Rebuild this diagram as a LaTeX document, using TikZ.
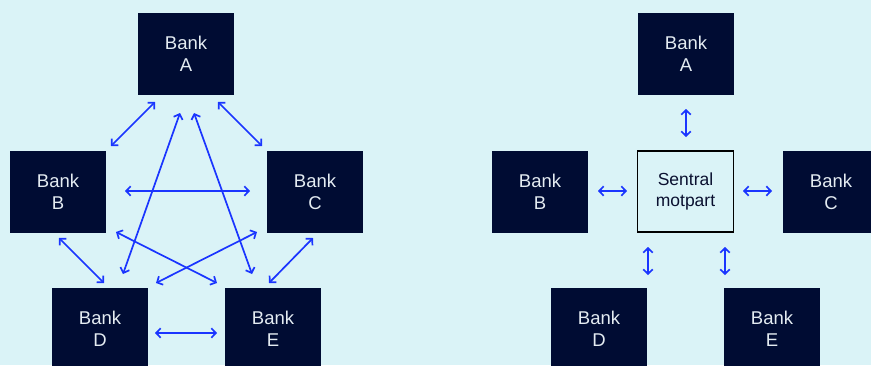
\documentclass[tikz,border=0pt]{standalone}
\usepackage{fontspec}
\setmainfont{Liberation Sans}
\usetikzlibrary{arrows.meta}
\definecolor{bg}{HTML}{DAF3F7}
\definecolor{navy}{HTML}{000C33}
\definecolor{arr}{HTML}{1A35FF}
\definecolor{txt}{HTML}{E4ECF2}
\definecolor{dtxt}{HTML}{0A1030}
\tikzset{
  bank/.style={fill=navy, text=txt, minimum width=96pt, minimum height=82pt, inner sep=0pt, align=center, font=\fontsize{18.5}{22}\selectfont},
  central/.style={draw=black, line width=1.8pt, fill=bg, text=dtxt, minimum width=96pt, minimum height=81pt, inner sep=0pt, align=center, font=\fontsize{17.5}{21}\selectfont},
  link/.style={draw=arr, line width=1.7pt, {Straight Barb[length=4.5pt,width=9.5pt]}-{Straight Barb[length=4.5pt,width=9.5pt]}}
}
\begin{document}
\begin{tikzpicture}[x=1pt,y=-1pt]
\clip (0,0) rectangle (871,365);
\fill[bg] (0,0) rectangle (871,365);
% left network
\node[bank] (A) at (186,54) {Bank\\A};
\node[bank] (B) at (58,192) {Bank\\B};
\node[bank] (C) at (315,192) {Bank\\C};
\node[bank] (D) at (100,329) {Bank\\D};
\node[bank] (E) at (273,329) {Bank\\E};
\coordinate (ab1) at (155,102); \coordinate (ab2) at (111,146);
\coordinate (ac1) at (218,102); \coordinate (ac2) at (262,146);
\coordinate (ad1) at (180,113); \coordinate (ad2) at (123,274);
\coordinate (ae1) at (194,113); \coordinate (ae2) at (252,274);
\coordinate (bc1) at (125,191); \coordinate (bc2) at (250,191);
\coordinate (be1) at (116,232); \coordinate (be2) at (217,283);
\coordinate (cd1) at (257,232); \coordinate (cd2) at (156,283);
\coordinate (bd1) at (59,238);  \coordinate (bd2) at (104,283);
\coordinate (ce1) at (313,238); \coordinate (ce2) at (269,283);
\coordinate (de1) at (155,333); \coordinate (de2) at (217,333);
\foreach \p in {ab,ac,ad,ae,bc,be,cd,bd,ce,de}
  \draw[link] (\p1) -- (\p2);
% right network
\node[central] (S) at (685.5,191.5) {Sentral\\motpart};
\node[bank] (A2) at (686,54) {Bank\\A};
\node[bank] (B2) at (540,192) {Bank\\B};
\node[bank] (C2) at (831,192) {Bank\\C};
\node[bank] (D2) at (599,329) {Bank\\D};
\node[bank] (E2) at (772,329) {Bank\\E};
\coordinate (sa1) at (686,109); \coordinate (sa2) at (686,137);
\coordinate (sb1) at (598,191); \coordinate (sb2) at (627,191);
\coordinate (sc1) at (743,191); \coordinate (sc2) at (772,191);
\coordinate (sd1) at (648,247); \coordinate (sd2) at (648,275);
\coordinate (se1) at (725,247); \coordinate (se2) at (725,275);
\foreach \p in {sa,sb,sc,sd,se}
  \draw[link] (\p1) -- (\p2);
\end{tikzpicture}
\end{document}
